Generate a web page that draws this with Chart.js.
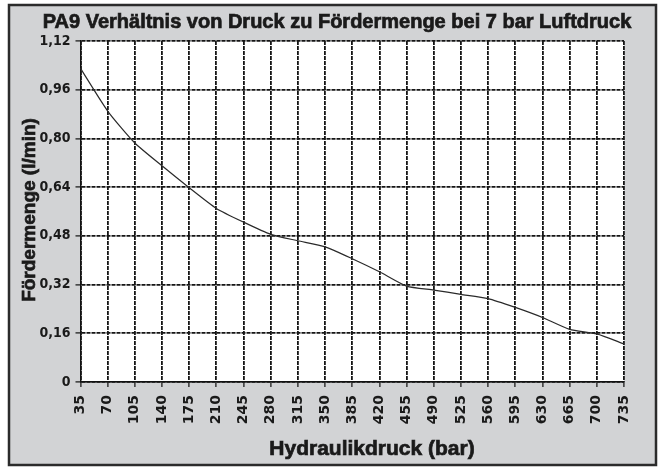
<!DOCTYPE html>
<html>
<head>
<meta charset="utf-8">
<script src="https://cdn.jsdelivr.net/npm/chart.js@4/dist/chart.umd.min.js"></script>
<style>
  body { margin: 0; background: #fff; }
</style>
</head>
<body>
<canvas id="pumpChart" width="659" height="469"></canvas>
<script>
// Druck (bar) auf der x-Achse
const pressures = ['35', '70', '105', '140', '175', '210', '245', '280', '315', '350', '385',
  '420', '455', '490', '525', '560', '595', '630', '665', '700', '735']

// Fördermenge (l/min)
const flowRates = [1.03, 0.89, 0.785, 0.71, 0.638, 0.57, 0.525, 0.485, 0.464, 0.444, 0.405,
  0.362, 0.315, 0.302, 0.288, 0.274, 0.245, 0.212, 0.173, 0.158, 0.125]

const yTicks = [0, 0.16, 0.32, 0.48, 0.64, 0.80, 0.96, 1.12]

const chartTitle = 'PA9 Verhältnis von Druck zu Fördermenge bei 7 bar Luftdruck'
const xTitle = 'Hydraulikdruck (bar)'
const yTitle = 'Fördermenge (l/min)'

// Text etwas kräftiger zeichnen
const heavyText = (ctx, text, x, y) => {
  ctx.lineWidth = 0.7
  ctx.strokeStyle = ctx.fillStyle
  ctx.strokeText(text, x, y)
  ctx.fillText(text, x, y)
}

// Rahmen, grauer Hintergrund und Beschriftungen
const framePlugin = {
  id: 'framePlugin',
  beforeDraw(chart) {
    const { ctx, chartArea } = chart
    ctx.save()
    ctx.fillStyle = '#ffffff'
    ctx.fillRect(0, 0, chart.width, chart.height)
    ctx.fillStyle = '#d2d3d5'
    ctx.fillRect(9, 5, 647, 460)
    ctx.lineWidth = 2.5
    ctx.strokeStyle = '#2b2b2b'
    ctx.strokeRect(9, 5, 647, 460)
    ctx.fillStyle = '#ffffff'
    ctx.fillRect(chartArea.left, chartArea.top, chartArea.right - chartArea.left, chartArea.bottom - chartArea.top)
    ctx.restore()
  },
  afterDraw(chart) {
    const { ctx } = chart
    ctx.save()
    ctx.fillStyle = '#1a1a1a'
    ctx.textAlign = 'center'
    ctx.textBaseline = 'middle'

    ctx.font = 'bold 20px "Liberation Sans", Arial, sans-serif'
    heavyText(ctx, chartTitle, 337, 22)

    ctx.font = 'bold 21px "Liberation Sans", Arial, sans-serif'
    heavyText(ctx, xTitle, 372, 449)

    ctx.translate(30, 210)
    ctx.rotate(-Math.PI / 2)
    ctx.font = 'bold 19px "Liberation Sans", Arial, sans-serif'
    heavyText(ctx, yTitle, 0, 0)
    ctx.restore()
  }
}

const pumpChart = () => {
  const canvas = document.querySelector('#pumpChart')

  new Chart(canvas, {
    type: 'line',
    data: {
      labels: pressures,
      datasets: [{
        data: flowRates,
        borderColor: '#2a2a2a',
        borderWidth: 1.2,
        pointRadius: 0,
        tension: 0.2,
        fill: false
      }]
    },
    options: {
      responsive: false,
      animation: false,
      devicePixelRatio: 1,
      layout: { padding: { top: 41, right: 35, bottom: 0, left: 0 } },
      plugins: {
        legend: { display: false },
        tooltip: { enabled: false },
        title: { display: false }
      },
      scales: {
        x: {
          type: 'category',
          offset: false,
          afterFit: (scale) => { scale.height = 87 },
          grid: {
            offset: false,
            color: '#151515',
            lineWidth: 1.8,
            tickLength: 5,
            tickColor: '#111',
            tickWidth: 1.2,
            tickBorderDash: []
          },
          border: { display: true, color: '#111', width: 1.5, dash: [4, 1] },
          ticks: {
            autoSkip: false,
            maxRotation: 90,
            minRotation: 90,
            padding: 8,
            color: '#1a1a1a',
            font: { family: '"DejaVu Sans", sans-serif', weight: 'bold', size: 14 }
          }
        },
        y: {
          min: 0,
          max: 1.12,
          afterFit: (scale) => { scale.width = 80.5 },
          afterBuildTicks: (scale) => { scale.ticks = yTicks.map(v => ({ value: v })) },
          grid: {
            color: '#151515',
            lineWidth: 1.8,
            tickLength: 5,
            tickColor: '#111',
            tickWidth: 1.2,
            tickBorderDash: []
          },
          border: { display: true, color: '#111', width: 1.5, dash: [4, 1] },
          ticks: {
            padding: 5,
            color: '#1a1a1a',
            font: { family: '"Liberation Sans Narrow", "DejaVu Sans Condensed", sans-serif', weight: 'bold', size: 14 },
            callback: (value) => value === 0 ? '0' : value.toFixed(2).replace('.', ',')
          }
        }
      }
    },
    plugins: [framePlugin]
  })
}

pumpChart()
</script>
</body>
</html>
